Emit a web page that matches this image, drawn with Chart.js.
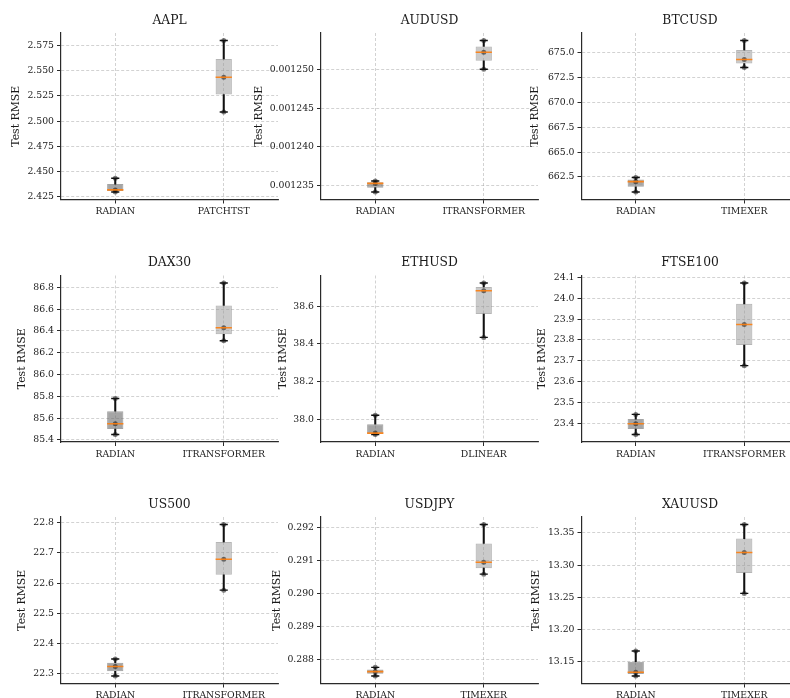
<!DOCTYPE html>
<html>
<head>
<meta charset="utf-8">
<script src="https://cdn.jsdelivr.net/npm/chart.js@4.4.1/dist/chart.umd.min.js"></script>
<style>
  html, body { margin: 0; padding: 0; background: #ffffff; width: 790px; height: 698px; overflow: hidden; position: relative; }
  canvas { position: absolute; }
</style>
</head>
<body>
<script>
// ---- data: test RMSE over three runs per model ----
const panelTitles = ['AAPL', 'AUDUSD', 'BTCUSD', 'DAX30', 'ETHUSD', 'FTSE100', 'US500', 'USDJPY', 'XAUUSD'];
const ourModel = 'RADIAN';
const baselineModels = ['PATCHTST', 'ITRANSFORMER', 'TIMEXER', 'ITRANSFORMER', 'DLINEAR', 'ITRANSFORMER', 'ITRANSFORMER', 'TIMEXER', 'TIMEXER'];

const radianRuns = [
  [2.4297, 2.4317, 2.4433],
  [0.0012342, 0.0012353, 0.0012356],
  [661.00, 662.03, 662.45],
  [85.450, 85.548, 85.780],
  [37.919, 37.926, 38.021],
  [23.347, 23.398, 23.443],
  [22.293, 22.324, 22.349],
  [0.28750, 0.28763, 0.28776],
  [13.1277, 13.1334, 13.1664]
];
const baselineRuns = [
  [2.5091, 2.5436, 2.5800],
  [0.0012500, 0.0012522, 0.0012537],
  [673.50, 674.30, 676.20],
  [86.310, 86.430, 86.840],
  [38.435, 38.683, 38.724],
  [23.677, 23.874, 24.073],
  [22.577, 22.679, 22.794],
  [0.29058, 0.29094, 0.29208],
  [13.2560, 13.3195, 13.3630]
];

const yTickValues = [
  [2.425, 2.450, 2.475, 2.500, 2.525, 2.550, 2.575],
  [0.001235, 0.001240, 0.001245, 0.001250],
  [662.5, 665.0, 667.5, 670.0, 672.5, 675.0],
  [85.4, 85.6, 85.8, 86.0, 86.2, 86.4, 86.6, 86.8],
  [38.0, 38.2, 38.4, 38.6],
  [23.4, 23.5, 23.6, 23.7, 23.8, 23.9, 24.0, 24.1],
  [22.3, 22.4, 22.5, 22.6, 22.7, 22.8],
  [0.288, 0.289, 0.290, 0.291, 0.292],
  [13.15, 13.20, 13.25, 13.30, 13.35]
];
const yTickDecimals = [3, 6, 1, 1, 1, 1, 1, 3, 2];
const yAxisLabel = 'Test RMSE';

// ---- layout of the 3x3 grid ----
const colLeft = [61, 321, 581.5];
const rowTop = [33, 275.5, 517];
const plotW = 217;
const plotH = 166.5;
const yTitleGap = [45, 62, 46, 39.3, 38.3, 39.4, 39.3, 44.3, 45];

const FONT = "'DejaVu Serif', 'Liberation Serif', serif";
const TEXT = '#1a1a1a';
const GRID = 'rgba(160,160,160,0.6)';
const SPINE = '#2a2a2a';
const boxFill = ['rgba(105,105,105,0.6)', 'rgba(150,150,150,0.5)'];
const boxEdge = ['rgba(90,90,90,0.55)', 'rgba(110,110,110,0.5)'];
const medianColor = 'rgba(255,127,14,0.9)';
const boxFrac = 0.15;

function quantile(sorted, p) {
  const pos = (sorted.length - 1) * p;
  const lo = Math.floor(pos), hi = Math.ceil(pos);
  return sorted[lo] + (sorted[hi] - sorted[lo]) * (pos - lo);
}
function boxStats(runs) {
  const s = [...runs].sort((a, b) => a - b);
  const q1 = quantile(s, 0.25), q3 = quantile(s, 0.75), iqr = q3 - q1;
  const lo = s.find(v => v >= q1 - 1.5 * iqr);
  const hi = [...s].reverse().find(v => v <= q3 + 1.5 * iqr);
  return { q1, med: quantile(s, 0.5), q3, lo, hi };
}

panelTitles.forEach((title, i) => {
  const col = i % 3, row = Math.floor(i / 3);
  const L = colLeft[col], T = rowTop[row];
  const yTitleSize = 10.9;
  const yAxisW = yTitleGap[i] + yTitleSize * 1.2 / 2;
  const cx = Math.floor(L - yAxisW - 2);
  const padLeft = L - yAxisW - cx;
  const cy = Math.floor(T - 33);
  const titleSpace = T - cy;
  const xAxisH = 30;
  const cw = Math.ceil(padLeft + yAxisW + plotW + 12);
  const ch = Math.ceil(titleSpace + plotH + xAxisH);
  const padBottom = ch - titleSpace - plotH - xAxisH;
  const padRight = cw - padLeft - yAxisW - plotW;

  const canvas = document.createElement('canvas');
  canvas.width = cw; canvas.height = ch;
  canvas.style.left = cx + 'px'; canvas.style.top = cy + 'px';
  canvas.style.width = cw + 'px'; canvas.style.height = ch + 'px';
  document.body.appendChild(canvas);

  const labels = [ourModel, baselineModels[i]];
  const st = [boxStats(radianRuns[i]), boxStats(baselineRuns[i])];
  const all = radianRuns[i].concat(baselineRuns[i]);
  const dMin = Math.min(...all), dMax = Math.max(...all);
  const margin = (dMax - dMin) * 0.05;

  const titleSize = 12.3;
  const titleLH = titleSize * 1.2;
  const titleCenter = titleSpace - 12.6;
  const titlePadTop = titleCenter - titleLH / 2;
  const titlePadBottom = titleSpace - titlePadTop - titleLH;

  const runPoints = [];
  [radianRuns[i], baselineRuns[i]].forEach((runs, k) => runs.forEach(v => runPoints.push({ x: labels[k], y: v })));

  const medianRadius = plotW / 2 * boxFrac / 2;
  const capRadius = medianRadius / 2;

  const decimals = yTickDecimals[i];
  const ticksForPanel = yTickValues[i];

  new Chart(canvas, {
    type: 'bar',
    data: {
      labels,
      datasets: [
        {
          type: 'bar', label: 'box', order: 6,
          data: st.map(s => [s.q1, s.q3]),
          backgroundColor: boxFill, borderColor: boxEdge, borderWidth: 1,
          borderSkipped: false, grouped: false,
          barPercentage: boxFrac, categoryPercentage: 1
        },
        {
          type: 'bar', label: 'whisker-low', order: 5,
          data: st.map(s => [s.lo, s.q1]),
          backgroundColor: '#111', borderWidth: 0, grouped: false, barThickness: 1.4
        },
        {
          type: 'bar', label: 'whisker-high', order: 5,
          data: st.map(s => [s.q3, s.hi]),
          backgroundColor: '#111', borderWidth: 0, grouped: false, barThickness: 1.4
        },
        {
          type: 'line', label: 'runs', order: 4, showLine: false,
          data: runPoints,
          pointStyle: 'circle', pointRadius: 2.5, pointBorderWidth: 0,
          pointBackgroundColor: 'rgba(20,20,20,0.55)'
        },
        {
          type: 'line', label: 'cap-low', order: 3, showLine: false,
          data: st.map(s => s.lo),
          pointStyle: 'line', pointRadius: capRadius, pointBorderWidth: 1.4,
          pointBorderColor: '#111'
        },
        {
          type: 'line', label: 'cap-high', order: 3, showLine: false,
          data: st.map(s => s.hi),
          pointStyle: 'line', pointRadius: capRadius, pointBorderWidth: 1.4,
          pointBorderColor: '#111'
        },
        {
          type: 'line', label: 'median', order: 1, showLine: false,
          data: st.map(s => s.med),
          pointStyle: 'line', pointRadius: medianRadius, pointBorderWidth: 1.6,
          pointBorderColor: medianColor
        }
      ]
    },
    options: {
      responsive: false,
      animation: false,
      devicePixelRatio: 1,
      events: [],
      layout: { padding: { left: padLeft, right: padRight, top: 0, bottom: padBottom } },
      plugins: {
        legend: { display: false },
        tooltip: { enabled: false },
        title: {
          display: true, text: title, fullSize: false, color: TEXT,
          font: { family: FONT, size: titleSize, weight: 'normal', lineHeight: 1.2 },
          padding: { top: titlePadTop, bottom: titlePadBottom }
        }
      },
      scales: {
        x: {
          type: 'category', offset: true,
          grid: {
            offset: false, color: GRID, lineWidth: 0.8,
            drawTicks: true, tickLength: 4, tickColor: SPINE, tickWidth: 1, tickBorderDash: []
          },
          border: { display: true, color: SPINE, width: 1.2, dash: [3, 2] },
          ticks: { font: { family: FONT, size: 9.3 }, color: TEXT, padding: 3, maxRotation: 0, autoSkip: false },
          afterFit: s => { s.height = xAxisH; }
        },
        y: {
          type: 'linear', min: dMin - margin, max: dMax + margin,
          afterBuildTicks: s => { s.ticks = ticksForPanel.map(v => ({ value: v })); },
          grid: {
            color: GRID, lineWidth: 0.8,
            drawTicks: true, tickLength: 4, tickColor: SPINE, tickWidth: 1, tickBorderDash: []
          },
          border: { display: true, color: SPINE, width: 1.2, dash: [3, 2] },
          ticks: {
            font: { family: FONT, size: 9.3 }, color: TEXT, padding: 3,
            callback: v => Number(v).toFixed(decimals)
          },
          title: {
            display: true, text: yAxisLabel, color: TEXT, padding: 0,
            font: { family: FONT, size: yTitleSize, lineHeight: 1.2 }
          },
          afterFit: s => { s.width = yAxisW; }
        }
      }
    }
  });
});
</script>
</body>
</html>
